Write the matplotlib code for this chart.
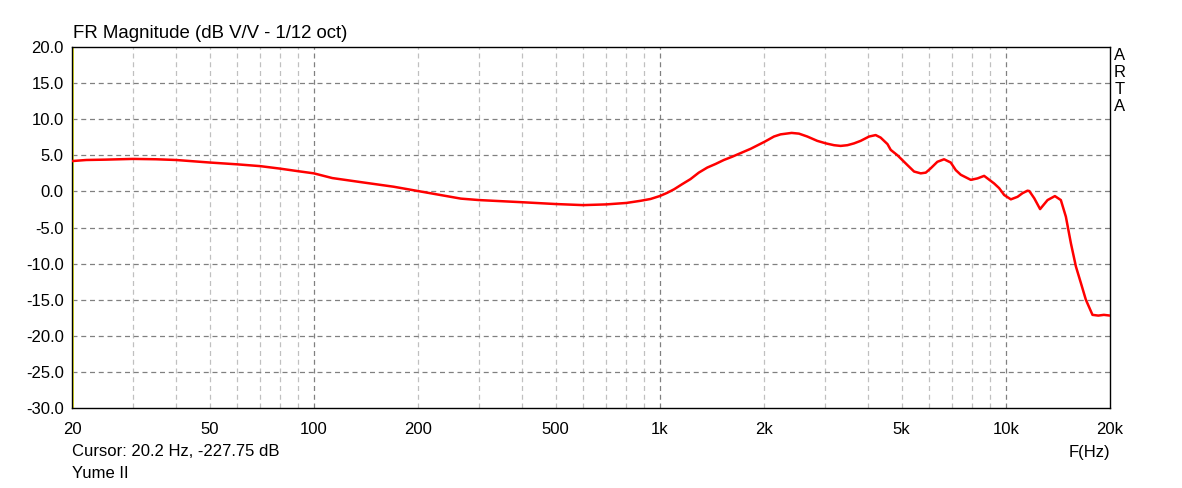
import numpy as np
import matplotlib
matplotlib.use('Agg')
import matplotlib.pyplot as plt
from matplotlib.ticker import FixedLocator, NullFormatter

plt.rcParams['font.family'] = ['Liberation Sans', 'DejaVu Sans']

#%% data
freq = [20, 22, 25, 30, 35, 40, 50, 60, 70, 80, 90, 100, 113, 136, 170, 200, 266,
        300, 400, 500, 600, 700, 800, 880, 940, 1000, 1050, 1100, 1160, 1226,
        1296, 1371, 1449, 1531, 1618, 1711, 1830, 2012, 2137, 2233, 2404, 2524,
        2668, 2851, 3020, 3187, 3331, 3484, 3640, 3805, 4025, 4205, 4347, 4549,
        4648, 4862, 5193, 5430, 5675, 5870, 6067, 6340, 6630, 6930, 7165, 7410,
        7920, 8280, 8655, 9250, 9565, 9890, 10340, 10810, 11170, 11550, 11690,
        12080, 12560, 13200, 13860, 14420, 14910, 15420, 15940, 16480, 17030,
        17800, 18500, 19200, 20000]
mag = [4.2, 4.35, 4.4, 4.5, 4.45, 4.35, 4.0, 3.75, 3.5, 3.15, 2.8, 2.5, 1.85, 1.3,
       0.65, 0.05, -1.0, -1.2, -1.5, -1.75, -1.9, -1.8, -1.6, -1.3, -1.05, -0.64,
       -0.2, 0.3, 1.0, 1.7, 2.6, 3.3, 3.8, 4.35, 4.8, 5.3, 5.9, 6.9, 7.6, 7.9,
       8.1, 8.0, 7.6, 7.0, 6.65, 6.4, 6.3, 6.4, 6.65, 7.0, 7.6, 7.8, 7.45, 6.55,
       5.75, 5.0, 3.65, 2.75, 2.5, 2.6, 3.2, 4.1, 4.45, 4.0, 2.95, 2.3, 1.6, 1.8,
       2.15, 1.1, 0.45, -0.5, -1.1, -0.75, -0.25, 0.1, 0.05, -0.95, -2.45, -1.2,
       -0.65, -1.2, -3.5, -7.2, -10.4, -12.7, -15.0, -17.1, -17.2, -17.1, -17.2]

x_ticks = [20, 50, 100, 200, 500, 1000, 2000, 5000, 10000, 20000]
x_labels = ['20', '50', '100', '200', '500', '1k', '2k', '5k', '10k', '20k']
y_ticks = np.arange(-30, 21, 5)
major_lines = [100, 1000, 10000]
minor_lines = [f * d for d in (10, 100, 1000) for f in range(2, 10)
               if 20 < f * d < 20000]

#%% plot
fig = plt.figure(figsize=(11.82, 4.88), dpi=100)
ax = fig.add_axes([72/1182, 1-408/488, (1110-72)/1182, (408-47)/488])

ax.set_xscale('log')
ax.set_xlim(20, 20000)
ax.set_ylim(-30, 20)

for f in minor_lines:
    ax.axvline(f, color='#c0c0c0', lw=0.9, ls=(0, (4, 3)), zorder=1)
for f in major_lines:
    ax.axvline(f, color='#808080', lw=0.9, ls=(0, (4, 3)), zorder=1)
for v in y_ticks[1:-1]:
    ax.axhline(v, color='#808080', lw=0.9, ls=(0, (4, 3)), zorder=1)

ax.axvline(20.2, color='#e0e000', lw=1.2, zorder=2)
ax.plot(freq, mag, color='#ff0000', lw=1.8, zorder=3, solid_joinstyle='round')

ax.xaxis.set_major_locator(FixedLocator(x_ticks))
ax.xaxis.set_minor_locator(FixedLocator([]))
ax.xaxis.set_minor_formatter(NullFormatter())
ax.set_xticklabels(x_labels)
ax.set_yticks(y_ticks)
ax.set_yticklabels(['%.1f' % v for v in y_ticks])
ax.tick_params(axis='both', length=0, labelsize=12, colors='black')
ax.tick_params(axis='x', pad=10)
ax.tick_params(axis='y', pad=6)

for s in ax.spines.values():
    s.set_color('black')
    s.set_linewidth(1.0)

fig.text(73/1182, 1-33/488, 'FR Magnitude (dB V/V - 1/12 oct)', fontsize=13.4,
         va='center', ha='left')
fig.text(72/1182, 1-452/488, 'Cursor: 20.2 Hz, -227.75 dB', fontsize=12,
         va='center', ha='left')
fig.text(72/1182, 1-473/488, 'Yume II', fontsize=12, va='center', ha='left')
fig.text(1110/1182, 1-452/488, 'F(Hz)', fontsize=12, va='center', ha='right')
for i, ch in enumerate('ARTA'):
    fig.text(1120/1182, 1-(55 + i*17.2)/488, ch, fontsize=12, va='center',
             ha='center')

fig.savefig('out.png', dpi=100, facecolor='white')
